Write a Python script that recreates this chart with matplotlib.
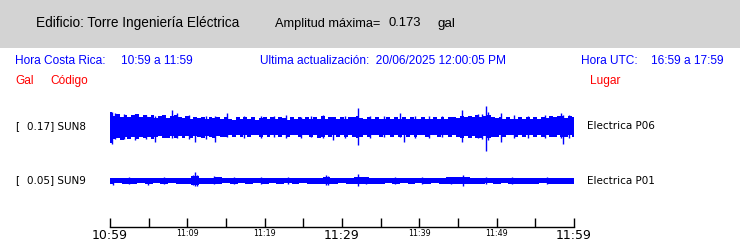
import numpy as np
import matplotlib
matplotlib.use("Agg")
import matplotlib.pyplot as plt
from matplotlib.patches import Rectangle

# ---------------- data ----------------
tick_minutes = [0, 5, 10, 15, 20, 25, 30, 35, 40, 45, 50, 55, 60]
tick_labels = ["10:59", "", "11:09", "", "11:19", "", "11:29", "", "11:39", "", "11:49", "", "11:59"]
big_labels = ["10:59", "11:29", "11:59"]

stations = ["SUN8", "SUN9"]
peaks = ["0.17", "0.05"]
places = ["Electrica P06", "Electrica P01"]
max_amp = 0.173

# amplitudes relative to the plot-wide maximum (0.173 gal); envelope sampled every 0.5 min
sun8_up = [0.70,0.55,0.62,0.48,0.60,0.45,0.58,0.62,0.47,0.56,
           0.46,0.58,0.42,0.55,0.60,0.44,0.52,0.58,0.45,0.40,
           0.52,0.38,0.50,0.42,0.48,0.36,0.47,0.40,0.50,0.36,
           0.48,0.38,0.35,0.47,0.36,0.48,0.38,0.46,0.35,0.40,
           0.47,0.36,0.48,0.38,0.46,0.44,0.35,0.48,0.37,0.46,
           0.36,0.47,0.38,0.48,0.36,0.52,0.37,0.46,0.48,0.36,
           0.47,0.37,0.48,0.45,0.52,0.44,0.36,0.48,0.37,0.46,
           0.36,0.38,0.47,0.36,0.48,0.38,0.46,0.36,0.48,0.37,
           0.36,0.47,0.37,0.38,0.48,0.36,0.47,0.38,0.46,0.48,
           0.44,0.55,0.46,0.53,0.47,0.58,0.48,0.52,0.57,0.46,
           0.44,0.48,0.36,0.47,0.38,0.36,0.48,0.37,0.46,0.38,
           0.47,0.37,0.48,0.44,0.53,0.45,0.52,0.55,0.44,0.53,
           0.50]
sun8_dn = [0.82,0.62,0.58,0.66,0.52,0.63,0.55,0.64,0.52,0.60,
           0.55,0.64,0.52,0.48,0.60,0.56,0.47,0.60,0.48,0.57,
           0.48,0.58,0.46,0.52,0.58,0.46,0.50,0.58,0.46,0.50,
           0.52,0.42,0.53,0.42,0.52,0.43,0.54,0.42,0.44,0.53,
           0.42,0.54,0.43,0.44,0.53,0.42,0.54,0.43,0.42,0.55,
           0.42,0.44,0.54,0.42,0.58,0.50,0.42,0.55,0.43,0.53,
           0.42,0.54,0.43,0.52,0.58,0.50,0.42,0.54,0.43,0.44,
           0.54,0.42,0.43,0.55,0.42,0.53,0.44,0.55,0.42,0.53,
           0.43,0.42,0.54,0.43,0.42,0.55,0.43,0.44,0.54,0.42,
           0.52,0.58,0.47,0.58,0.48,0.57,0.58,0.47,0.58,0.50,
           0.52,0.43,0.54,0.42,0.44,0.53,0.42,0.54,0.43,0.44,
           0.53,0.42,0.54,0.43,0.53,0.52,0.43,0.55,0.52,0.44,
           0.50]
sun8_spike_t = [0.3,0.7,1.8,3.2,4.6,5.8,8.0,8.6,10.2,11.0,12.4,13.6,15.1,17.3,19.5,21.2,22.8,24.7,26.0,27.5,
                28.8,30.4,32.05,33.6,35.4,37.5,38.0,39.4,41.2,42.9,45.5,47.6,48.1,48.6,48.9,50.6,52.2,54.0,
                56.2,58.3,58.6,59.3]
sun8_spike_up = [0.72,0.68,0.62,0.62,0.60,0.55,0.82,0.65,0.58,0.50,0.55,0.55,0.65,0.55,0.52,0.55,0.58,0.50,0.55,0.58,
                 0.48,0.55,0.90,0.55,0.55,0.65,0.50,0.55,0.52,0.55,0.82,0.62,0.62,1.02,0.75,0.65,0.58,0.55,
                 0.58,0.65,0.60,0.58]
sun8_spike_dn = [0.85,0.60,0.62,0.65,0.62,0.78,0.55,0.55,0.62,0.75,0.60,0.75,0.50,0.55,0.58,0.52,0.55,0.58,0.52,0.58,
                 0.68,0.55,0.92,0.58,0.52,0.50,0.75,0.55,0.58,0.52,0.75,0.58,0.60,1.20,0.68,0.75,0.55,0.55,
                 0.55,0.55,0.88,0.55]

# SUN9 envelope sampled every 1 min
sun9_up = [0.15,0.13,0.16,0.13,0.15,0.12,0.16,0.13,0.15,0.12,
           0.16,0.22,0.16,0.13,0.18,0.14,0.12,0.15,0.13,0.15,
           0.12,0.15,0.13,0.15,0.12,0.15,0.14,0.16,0.18,0.14,
           0.15,0.16,0.18,0.17,0.14,0.12,0.15,0.13,0.15,0.12,
           0.15,0.13,0.15,0.14,0.17,0.18,0.17,0.16,0.14,0.15,
           0.13,0.15,0.16,0.13,0.16,0.14,0.15,0.16,0.13,0.15,
           0.15]
sun9_dn = [0.16,0.13,0.15,0.15,0.13,0.16,0.13,0.15,0.12,0.15,
           0.16,0.20,0.16,0.14,0.17,0.13,0.15,0.12,0.15,0.13,
           0.15,0.12,0.15,0.13,0.15,0.12,0.15,0.16,0.17,0.14,
           0.13,0.16,0.17,0.15,0.14,0.15,0.12,0.15,0.13,0.15,
           0.12,0.15,0.13,0.15,0.16,0.17,0.16,0.14,0.15,0.13,
           0.15,0.13,0.15,0.14,0.15,0.16,0.13,0.15,0.16,0.14,
           0.15]
sun9_spike_t = [0.4,2.5,4.9,7.0,10.7,11.0,11.3,13.5,16.0,19.5,23.0,27.9,28.2,32.05,33.1,36.8,40.3,44.1,45.6,48.6,52.0,56.5]
sun9_spike_up = [0.16,0.17,0.16,0.17,0.30,0.42,0.28,0.24,0.17,0.18,0.17,0.29,0.22,0.33,0.20,0.17,0.17,0.19,0.29,0.20,0.17,0.17]
sun9_spike_dn = [0.21,0.18,0.19,0.16,0.22,0.26,0.24,0.18,0.18,0.16,0.17,0.21,0.20,0.25,0.14,0.18,0.16,0.18,0.25,0.18,0.17,0.18]

# ---------------- figure ----------------
W, H = 740, 241
fig = plt.figure(figsize=(W / 100, H / 100), dpi=100)
fig.patch.set_facecolor("white")

def P(x, y):
    return x / W, 1 - y / H

# header band
fig.patches.append(Rectangle((0, 1 - 48 / H), 1, 48 / H, transform=fig.transFigure,
                             facecolor="#d3d3d3", edgecolor="none", zorder=0))

helv = ["Liberation Sans", "DejaVu Sans"]
fig.text(*P(36, 23.5), "Edificio: Torre Ingeniería Eléctrica", family=helv, fontsize=9.8, va="center", ha="left")
fig.text(*P(275, 23.5), "Amplitud máxima=", family=helv, fontsize=9.2, va="center", ha="left")
fig.text(*P(389, 23.5), f"{max_amp:.3f}", family=helv, fontsize=9.4, va="center", ha="left")
fig.text(*P(438, 23.5), "gal", family=helv, fontsize=9.6, va="center", ha="left")

fs_r = 8.6
blue = "#0000ff"
red = "#ff0000"
fig.text(*P(15, 60.5), "Hora Costa Rica:", family=helv, fontsize=fs_r, color=blue, va="center")
fig.text(*P(121, 60.5), "10:59 a 11:59", family=helv, fontsize=fs_r, color=blue, va="center")
fig.text(*P(260, 60.5), "Ultima actualización:  20/06/2025 12:00:05 PM", family=helv, fontsize=fs_r, color=blue, va="center")
fig.text(*P(581, 60.5), "Hora UTC:", family=helv, fontsize=fs_r, color=blue, va="center")
fig.text(*P(651, 60.5), "16:59 a 17:59", family=helv, fontsize=fs_r, color=blue, va="center")
fig.text(*P(15, 81), "Gal", family=helv, fontsize=fs_r, color=red, va="center")
fig.text(*P(50, 81), "Código", family=helv, fontsize=fs_r, color=red, va="center")
fig.text(*P(590, 81), "Lugar", family=helv, fontsize=fs_r, color=red, va="center")

# trace axes
ax_top, ax_bot = 95, 227
ax = fig.add_axes([110 / W, 1 - ax_bot / H, (574 - 110) / W, (ax_bot - ax_top) / H])
ax.set_facecolor("none")
px = 0.05  # relative units per pixel
ax.set_xlim(0, 60)
ax.set_ylim(0, (ax_bot - ax_top) * px)
base8 = (ax_bot - 126.5) * px
base9 = (ax_bot - 180.8) * px

t8 = np.linspace(0, 60, len(sun8_up))
t9 = np.linspace(0, 60, len(sun9_up))
ax.fill_between(t8, base8 + np.array(sun8_up), base8 - np.array(sun8_dn), step="mid",
                color=blue, linewidth=0, antialiased=False)
ax.vlines(sun8_spike_t, base8 - np.array(sun8_spike_dn), base8 + np.array(sun8_spike_up),
          color=blue, linewidth=1.0)
ax.fill_between(t9, base9 + np.array(sun9_up), base9 - np.array(sun9_dn), step="mid",
                color=blue, linewidth=0, antialiased=False)
ax.vlines(sun9_spike_t, base9 - np.array(sun9_spike_dn), base9 + np.array(sun9_spike_up),
          color=blue, linewidth=1.0)

for sp in ["left", "right", "top"]:
    ax.spines[sp].set_visible(False)
ax.spines["bottom"].set_linewidth(1.0)
ax.set_yticks([])
ax.set_xticks(tick_minutes)
ax.set_xticklabels(tick_labels)
ax.tick_params(axis="x", direction="in", length=6.5, width=1.0, pad=1.5)
for lab in ax.get_xticklabels():
    lab.set_family("DejaVu Sans")
    lab.set_fontsize(9.0 if lab.get_text() in big_labels else 5.8)
    lab.set_verticalalignment("top")

# station labels
for name, pk, place, yy in zip(stations, peaks, places, [126, 180.5]):
    fig.text(*P(15, yy), "[", family="DejaVu Sans", fontsize=7.5, va="center")
    fig.text(*P(27, yy), f"{pk}] {name}", family="DejaVu Sans", fontsize=7.5, va="center")
    fig.text(*P(587, yy), place, family="DejaVu Sans", fontsize=7.5, va="center")

fig.savefig("out.png", dpi=100, facecolor="white")
